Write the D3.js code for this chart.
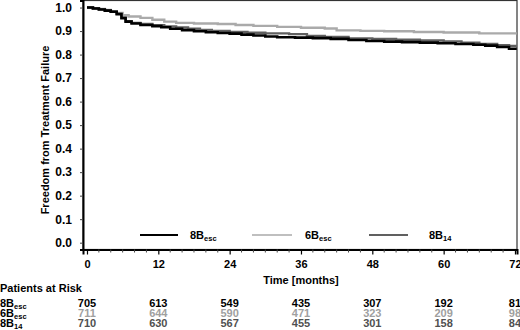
<!DOCTYPE html>
<html><head><meta charset="utf-8">
<script src="https://cdn.jsdelivr.net/npm/d3@7"></script>
<style>
body{margin:0;background:#fff;}
svg{display:block;font-family:"Liberation Sans",Arial,sans-serif;font-weight:bold;}
</style></head>
<body><svg id="c" width="520" height="330"></svg>
<script>
// ---- data ----
const seriesNames = ["8B|esc","6B|esc","8B|14"];
const seriesColors = ["#000000","#aaaaaa","#606060"];
const monthTicks = [0,12,24,36,48,60,72];
const yTicks = [0,0.1,0.2,0.3,0.4,0.5,0.6,0.7,0.8,0.9,1.0];
const endTime = 72.3;
const t8Besc = [0,1,2,3,4,5,5.8,6.5,7.5,9,11,12.5,14,16,18,20,22,24,26,28,30,32,35,38,41,44,47,50,53,56,59,62,65,67,69,71];
const s8Besc = [1,0.996,0.992,0.987,0.982,0.972,0.955,0.94,0.932,0.926,0.921,0.916,0.91,0.904,0.899,0.895,0.892,0.889,0.885,0.881,0.877,0.874,0.872,0.87,0.867,0.862,0.858,0.855,0.853,0.851,0.848,0.845,0.842,0.838,0.832,0.825];
const t6Besc = [0,1,2,3,4,5,6,7,9,11,13,15,18,22,25,28,32,36,40,42,46,50,55,60,66];
const s6Besc = [1,0.997,0.994,0.99,0.985,0.977,0.967,0.962,0.956,0.948,0.94,0.935,0.932,0.93,0.926,0.922,0.918,0.914,0.911,0.903,0.901,0.899,0.896,0.894,0.89];
const t8B14 = [0,1,2,3,4,5,5.8,6.5,7.5,9,11,13,15,17,19,21,24,27,30,34,37,40,44,48,52,56,60,63,66,69,71];
const s8B14 = [1,0.997,0.993,0.988,0.982,0.973,0.957,0.942,0.935,0.93,0.925,0.92,0.915,0.91,0.905,0.9,0.896,0.893,0.89,0.887,0.879,0.875,0.869,0.866,0.863,0.86,0.856,0.85,0.845,0.84,0.837];
const risk8Besc = [705,613,549,435,307,192,81];
const risk6Besc = [711,644,590,471,323,209,98];
const risk8B14 = [710,630,567,455,301,158,84];
const riskColors = ["#000000","#a0a0a0","#505050"];

const times = [t8Besc,t6Besc,t8B14];
const surv = [s8Besc,s6Besc,s8B14];
const risks = [risk8Besc,risk6Besc,risk8B14];

// ---- scales ----
const svg = d3.select("#c");
const x = d3.scaleLinear().domain([-0.67,72.34]).range([83,517]);
const y = d3.scaleLinear().domain([-0.029,1.03]).range([249.5,0.5]);

// frame
svg.append("rect").attr("x",x.range()[0]).attr("y",0.5).attr("width",x.range()[1]-x.range()[0]).attr("height",249)
  .attr("fill","none").attr("stroke","#333").attr("stroke-width",1.2);

// curves
const line = d3.line().x(d=>x(d[0])).y(d=>y(d[1])).curve(d3.curveStepAfter);
const order = [1,2,0];
order.forEach(i=>{
  const pts = times[i].map((t,j)=>[t,surv[i][j]]);
  pts.push([endTime, surv[i][surv[i].length-1]]);
  svg.append("path").attr("d",line(pts)).attr("fill","none")
    .attr("stroke",seriesColors[i]).attr("stroke-width", i===0?2.6:2.4);
});

// axes
const gx = svg.append("g").attr("transform",`translate(0,${y.range()[0]})`);
gx.call(d3.axisBottom(x).tickValues(monthTicks).tickSize(5).tickPadding(6).tickFormat(d3.format("d")));
gx.select(".domain").attr("stroke","#000").attr("stroke-width",2);
gx.selectAll("text").attr("font-size",11).attr("font-weight","bold").attr("font-family","Liberation Sans, Arial, sans-serif").attr("fill","#000");
gx.selectAll(".tick line").attr("stroke","#000").attr("stroke-width",1.2);
svg.append("g").selectAll("line").data(d3.range(0,73,2).filter(d=>d%12!==0)).join("line")
  .attr("x1",d=>x(d)).attr("x2",d=>x(d)).attr("y1",y.range()[0]).attr("y2",y.range()[0]+3)
  .attr("stroke","#444").attr("stroke-width",1);

const gy = svg.append("g").attr("transform",`translate(${x.range()[0]},0)`);
gy.call(d3.axisLeft(y).tickValues(yTicks).tickSize(3).tickPadding(8).tickFormat(d3.format(".1f")));
gy.select(".domain").attr("stroke","#000").attr("stroke-width",2);
gy.selectAll("text").attr("font-size",12).attr("font-weight","bold").attr("font-family","Liberation Sans, Arial, sans-serif").attr("fill","#000");
gy.selectAll(".tick line").attr("stroke","#444");

// axis titles
svg.append("text").attr("transform","translate(49,130) rotate(-90)").attr("text-anchor","middle")
  .attr("font-size",11).text("Freedom from Treatment Failure");
svg.append("text").attr("x",x(36)).attr("y",284).attr("text-anchor","middle").attr("font-size",11).text("Time [months]");

// label helper with subscript
function label(sel, name){
  const [a,b] = name.split("|");
  sel.append("tspan").text(a);
  sel.append("tspan").attr("font-size",7.5).attr("dy",2).text(b);
}

// legend
const legX = [[140,178,190],[252,292,305],[369,408,429]];
seriesNames.forEach((n,i)=>{
  svg.append("line").attr("x1",legX[i][0]).attr("x2",legX[i][1]).attr("y1",235).attr("y2",235)
    .attr("stroke",seriesColors[i]).attr("stroke-width",i===1?1.5:2);
  const t = svg.append("text").attr("x",legX[i][2]).attr("y",239).attr("font-size",11);
  label(t,n);
});

// patients at risk
svg.append("text").attr("x",0).attr("y",292).attr("font-size",11).text("Patients at Risk");
const rowY = [307,317,327];
seriesNames.forEach((n,i)=>{
  const t = svg.append("text").attr("x",0).attr("y",rowY[i]).attr("font-size",11).attr("fill","#000");
  label(t,n);
  svg.append("g").selectAll("text").data(risks[i]).join("text")
    .attr("x",(d,j)=>x(monthTicks[j])).attr("y",rowY[i]).attr("text-anchor","middle")
    .attr("font-size",11).attr("fill",riskColors[i]).text(d=>d);
});
</script></body></html>
